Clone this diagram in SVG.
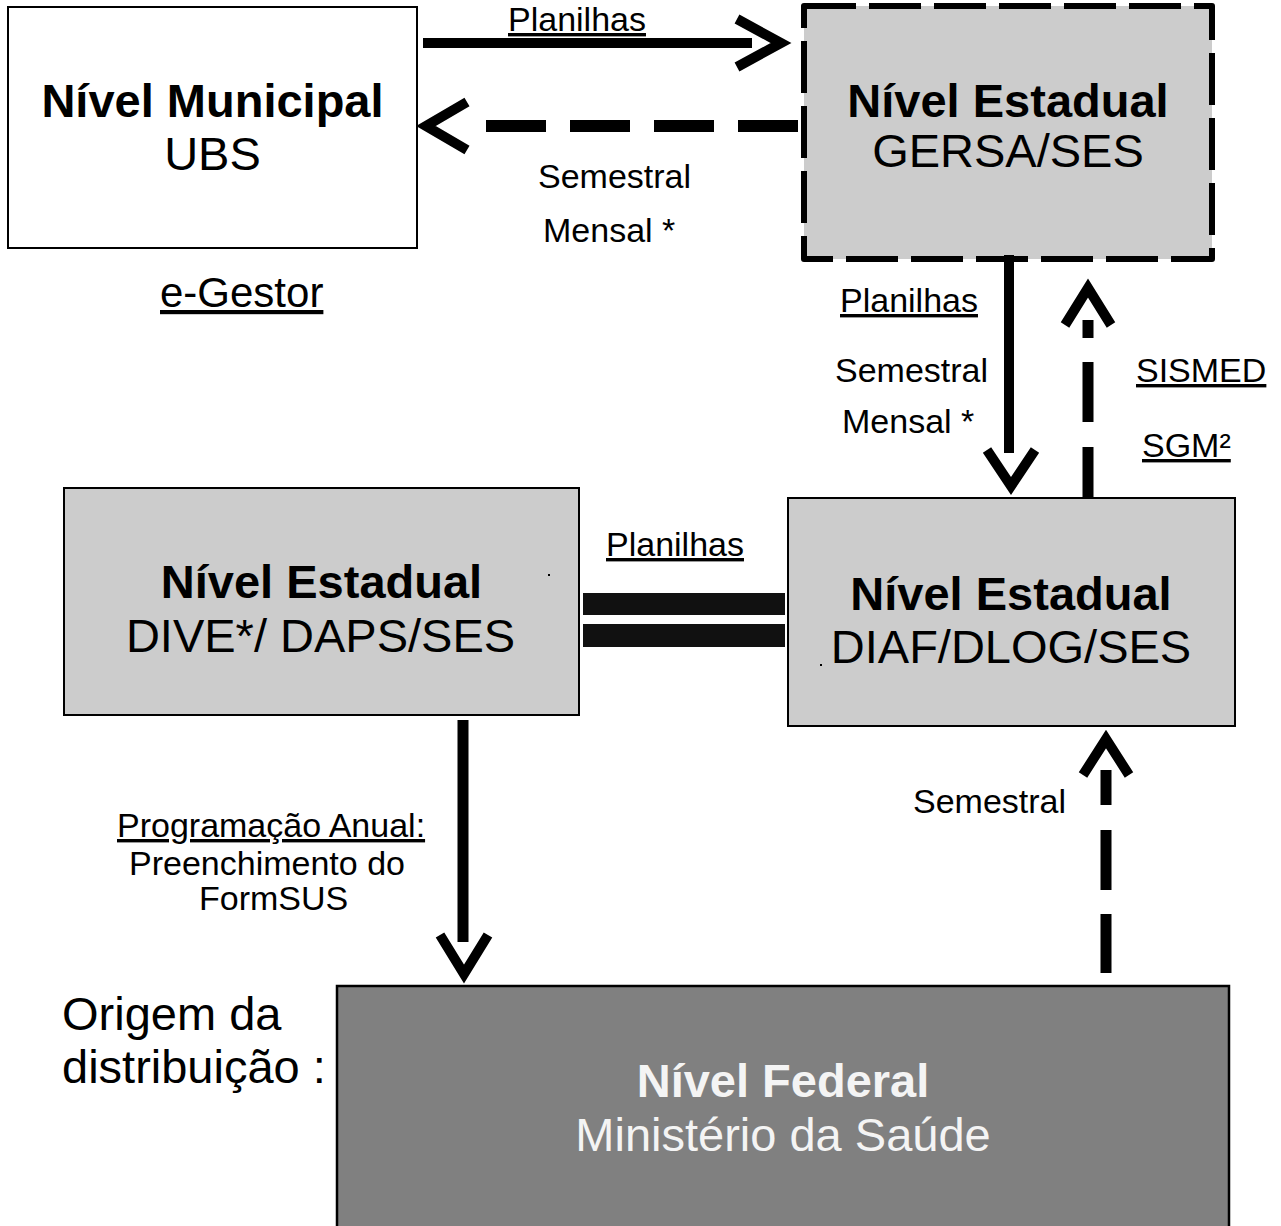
<svg xmlns="http://www.w3.org/2000/svg" width="1281" height="1226" viewBox="0 0 1281 1226">
<style>
  text { font-family: "Liberation Sans", Arial, sans-serif; fill: #000; }
  .title { font-size: 47px; font-weight: bold; text-anchor: middle; }
  .sub { font-size: 47px; text-anchor: middle; }
  .lbl { font-size: 34px; }
  .u { text-decoration: underline; }
  .box { stroke: #000; stroke-width: 2; }
  .line { stroke: #000; fill: none; stroke-linecap: butt; }
  .head { stroke: #000; fill: none; stroke-width: 10; stroke-linejoin: miter; stroke-miterlimit: 10; stroke-linecap: butt; }
  .white { fill: #f4f4f4; }
</style>
<rect width="1281" height="1226" fill="#fff"/>

<g id="node-municipal">
  <rect class="box" x="8" y="7" width="409" height="241" fill="#fff"/>
  <text class="title" x="212.5" y="117">Nível Municipal</text>
  <text class="sub" x="212.5" y="170">UBS</text>
</g>

<g id="node-gersa">
  <rect x="804" y="6" width="408" height="253" fill="#cccccc" stroke="#000" stroke-width="6" stroke-dasharray="52 13" stroke-linejoin="round"/>
  <text class="title" x="1008" y="117">Nível Estadual</text>
  <text class="sub" x="1008" y="167">GERSA/SES</text>
</g>

<g id="node-dive">
  <rect class="box" x="64" y="488" width="515" height="227" fill="#cccccc"/>
  <text class="title" x="321.5" y="598">Nível Estadual</text>
  <text class="sub" x="320.5" y="652">DIVE*/ DAPS/SES</text>
  <rect x="548" y="574" width="2" height="2" fill="#000"/>
</g>

<g id="node-diaf">
  <rect class="box" x="788" y="498" width="447" height="228" fill="#cccccc"/>
  <text class="title" x="1011" y="610">Nível Estadual</text>
  <text class="sub" x="1011" y="663">DIAF/DLOG/SES</text>
  <rect x="820" y="664" width="2" height="2" fill="#000"/>
</g>

<g id="node-federal">
  <rect x="337" y="986" width="892" height="260" fill="#808080" stroke="#000" stroke-width="2.5"/>
  <text class="title white" x="783" y="1097">Nível Federal</text>
  <text class="sub white" x="783" y="1151">Ministério da Saúde</text>
</g>

<g id="origem-label">
  <text x="62" y="1030" font-size="47">Origem da</text>
  <text x="62" y="1083" font-size="47">distribuição :</text>
</g>

<g id="connectors">
  <!-- Municipal -> GERSA (solid) -->
  <line class="line" x1="423" y1="43" x2="752" y2="43" stroke-width="10"/>
  <polyline class="head" points="737,19 781,43 737,67"/>
  <!-- GERSA -> Municipal (dashed) -->
  <line class="line" x1="798" y1="126" x2="485" y2="126" stroke-width="12" stroke-dasharray="60 24"/>
  <polyline class="head" points="467,102 426,126 467,150"/>
  <!-- GERSA -> DIAF (solid down) -->
  <line class="line" x1="1009" y1="255" x2="1009" y2="453" stroke-width="10"/>
  <polyline class="head" points="987,450 1011,486 1035,450"/>
  <!-- DIAF -> GERSA (dashed up) -->
  <line class="line" x1="1088" y1="498" x2="1088" y2="320" stroke-width="11" stroke-dasharray="51 25 60 24 18 100"/>
  <polyline class="head" points="1065,325 1088,288 1111,325"/>
  <!-- DIVE = DIAF (double bars) -->
  <rect x="583" y="593" width="202" height="22" fill="#111"/>
  <rect x="583" y="624" width="202" height="23" fill="#111"/>
  <!-- DIVE -> Federal (solid down) -->
  <line class="line" x1="463" y1="720" x2="463" y2="942" stroke-width="11"/>
  <polyline class="head" points="440,935 464,974 488,935"/>
  <!-- Federal -> DIAF (dashed up) -->
  <line class="line" x1="1106" y1="973" x2="1106" y2="770" stroke-width="11" stroke-dasharray="59 24 60 25 35 100"/>
  <polyline class="head" points="1083,775 1106,739 1129,775"/>
</g>

<g id="labels">
  <text class="lbl u" x="508" y="31">Planilhas</text>
  <text class="lbl" x="538" y="188">Semestral</text>
  <text class="lbl" x="543" y="242">Mensal *</text>
  <text class="u" x="160" y="307" font-size="42">e-Gestor</text>
  <text class="lbl u" x="840" y="312">Planilhas</text>
  <text class="lbl" x="835" y="382">Semestral</text>
  <text class="lbl" x="842" y="433">Mensal *</text>
  <text class="lbl u" x="1136" y="382">SISMED</text>
  <text class="lbl u" x="1142" y="457">SGM²</text>
  <text class="lbl u" x="606" y="556">Planilhas</text>
  <text class="lbl" x="913" y="813">Semestral</text>
  <text class="lbl u" x="117" y="837">Programação Anual:</text>
  <text class="lbl" x="129" y="875">Preenchimento do</text>
  <text class="lbl" x="199" y="910">FormSUS</text>
</g>
</svg>
